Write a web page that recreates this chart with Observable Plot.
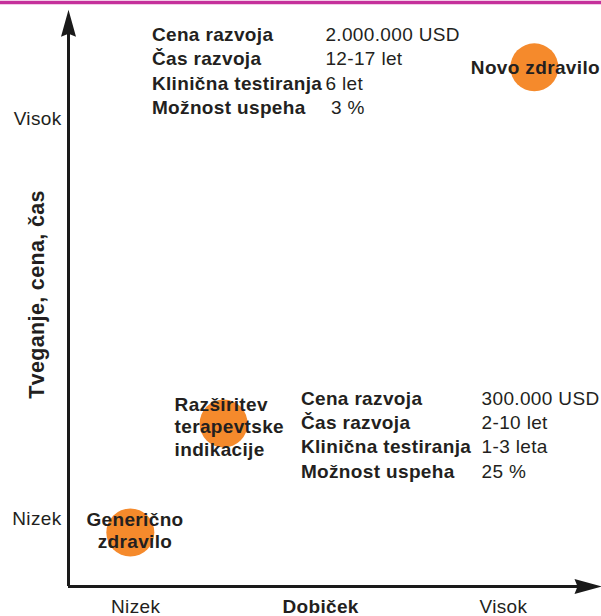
<!DOCTYPE html>
<html><head><meta charset="utf-8">
<script src="https://cdn.jsdelivr.net/npm/d3@7"></script>
<script src="https://cdn.jsdelivr.net/npm/@observablehq/plot@0.6"></script>
<style>html,body{margin:0;padding:0;background:#fff}</style>
</head><body><div id="chart"></div>
<script>
// ---- data ----
const products = ["Generično\nzdravilo", "Razširitev\nterapevtske\nindikacije", "Novo zdravilo"];
const dobicek = [11.6, 29.1, 87.4];     // profit (0–100)
const tveganje = [9.25, 27.9, 88.9];    // risk, cost, time (0–100)
const xTickValues = [12.6, 81.6];
const xTickLabels = ["Nizek", "Visok"];
const yTickValues = [11.6, 80.1];
const yTickLabels = ["Nizek", "Visok"];
const propLabels = ["Cena razvoja", "Čas razvoja", "Klinična testiranja", "Možnost uspeha"];
const newDrugValues = ["2.000.000 USD", "12-17 let", "6 let", "\u00a03 %"];
const extValues = ["300.000 USD", "2-10 let", "1-3 leta", "25 %"];
const xTitle = "Dobiček";
const yTitle = "Tveganje, cena, čas";

// ---- styling ----
const INK = "#231f20";
const LINE = "#1a1a1a";
const ORANGE = "#f58a2c";
const MAGENTA = "#c5309b";

const arrowUp = {draw(ctx) { ctx.moveTo(0, 0); ctx.lineTo(7.5, 27); ctx.lineTo(0, 24); ctx.lineTo(-7.5, 27); ctx.closePath(); }};
const arrowRight = {draw(ctx) { ctx.moveTo(0, 0); ctx.lineTo(-27, -7.5); ctx.lineTo(-24, 0); ctx.lineTo(-27, 7.5); ctx.closePath(); }};

const bold = {fontWeight: "bold", fontSize: 19, fill: INK, text: d => d};

const chart = Plot.plot({
  width: 601, height: 616,
  marginLeft: 68, marginRight: 0, marginTop: 2, marginBottom: 30,
  style: {fontFamily: "'Liberation Sans', Arial, sans-serif", fontSize: "19px", letterSpacing: "0.35px", color: INK, background: "#fff"},
  x: {domain: [0, 100]},
  y: {domain: [0, 100]},
  marks: [
    Plot.ruleY([{y: 100, x1: -12.8, x2: 100}], {y: "y", x1: "x1", x2: "x2", stroke: MAGENTA, strokeWidth: 3.5}),
    Plot.ruleX([{x: 0, y1: 0, y2: 95.2}], {x: "x", y1: "y1", y2: "y2", stroke: LINE, strokeWidth: 3}),
    Plot.ruleY([{y: 0, x1: 0, x2: 95.7}], {y: "y", x1: "x1", x2: "x2", stroke: LINE, strokeWidth: 3}),
    Plot.dot([{x: 0, y: 98.75}], {x: "x", y: "y", symbol: arrowUp, fill: LINE, stroke: "none"}),
    Plot.dot([{x: 100, y: 0}], {x: "x", y: "y", symbol: arrowRight, fill: LINE, stroke: "none"}),
    Plot.axisX({ticks: xTickValues, tickFormat: d => xTickLabels[xTickValues.indexOf(d)], tickSize: 0, tickPadding: 13, fontSize: 19, label: null}),
    Plot.axisY({ticks: yTickValues, tickFormat: d => yTickLabels[yTickValues.indexOf(d)], tickSize: 0, tickPadding: 7, fontSize: 19, label: null}),
    Plot.dot(products, {x: (d, i) => dobicek[i], y: (d, i) => tveganje[i], r: 24, fill: ORANGE, stroke: "none"}),
    Plot.text([products[0]], {...bold, x: [12.48], y: [6.51], textAnchor: "middle", lineAnchor: "bottom", lineHeight: 1.158}),
    Plot.text([products[1]], {...bold, x: [19.9], y: [22.43], textAnchor: "start", lineAnchor: "bottom", lineHeight: 1.184}),
    Plot.text([products[2]], {...bold, x: [87.6], y: [87.84], textAnchor: "middle", lineAnchor: "bottom"}),
    Plot.text([propLabels.join("\n")], {...bold, x: [15.65], y: [80.9], textAnchor: "start", lineAnchor: "bottom", lineHeight: 1.284}),
    Plot.text([newDrugValues.join("\n")], {...bold, fontWeight: "normal", x: [48.2], y: [80.9], textAnchor: "start", lineAnchor: "bottom", lineHeight: 1.284}),
    Plot.text([propLabels.join("\n")], {...bold, x: [43.6], y: [18.66], textAnchor: "start", lineAnchor: "bottom", lineHeight: 1.274}),
    Plot.text([extValues.join("\n")], {...bold, fontWeight: "normal", x: [77.5], y: [18.66], textAnchor: "start", lineAnchor: "bottom", lineHeight: 1.274}),
    Plot.text([xTitle], {...bold, x: [47.3], frameAnchor: "bottom", dy: 26.5, lineAnchor: "bottom"}),
    Plot.text([yTitle], {...bold, fontSize: 21.5, frameAnchor: "left", dx: -31, rotate: -90, textAnchor: "middle", lineAnchor: "middle"})
  ]
});
document.getElementById("chart").appendChild(chart);
</script>
</body></html>
